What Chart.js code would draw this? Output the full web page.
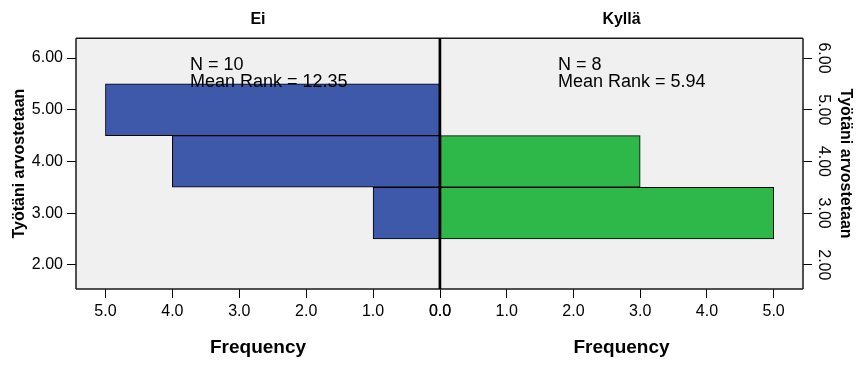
<!DOCTYPE html>
<html>
<head>
<meta charset="utf-8">
<script src="https://cdn.jsdelivr.net/npm/chart.js@4"></script>
<style>
  body { margin: 0; background: #fff; }
  #wrap { position: relative; width: 856px; height: 365px; }
  canvas { position: absolute; left: 0; top: 0; }
</style>
</head>
<body>
<div id="wrap">
  <canvas id="chartEi" width="856" height="365"></canvas>
  <canvas id="chartKylla" width="856" height="365"></canvas>
</div>
<script>
// Työtäni arvostetaan, split by group
const groups = ['Ei', 'Kyllä'];
const ratingEi = [5, 4, 3];
const freqEi = [5, 4, 1];
const ratingKylla = [4, 3];
const freqKylla = [3, 5];
const groupN = [10, 8];
const meanRanks = [12.35, 5.94];
const yTicks = [2, 3, 4, 5, 6];
const xTicks = [0, 1, 2, 3, 4, 5];

Chart.defaults.font.family = "'Liberation Sans', Arial, sans-serif";
Chart.defaults.color = '#000';

const panelPlugin = {
  id: 'panel',
  beforeDraw(chart) {
    const { ctx, chartArea: a } = chart;
    ctx.save();
    ctx.fillStyle = '#F0F0F0';
    ctx.fillRect(a.left, a.top, a.width, a.height);
    ctx.restore();
  },
  afterDatasetsDraw(chart, args, opts) {
    const { ctx, chartArea: a } = chart;
    ctx.save();
    ctx.strokeStyle = '#1a1a1a';
    ctx.lineWidth = 1.5;
    ctx.beginPath();
    ctx.moveTo(a.left, a.top);
    ctx.lineTo(a.right, a.top);
    ctx.moveTo(a.left, a.bottom);
    ctx.lineTo(a.right, a.bottom);
    const outer = opts.side === 'left' ? a.left : a.right;
    ctx.moveTo(outer, a.top);
    ctx.lineTo(outer, a.bottom);
    ctx.stroke();
    // centre line at frequency 0
    const zero = chart.scales.x.getPixelForValue(0);
    ctx.strokeStyle = '#000';
    ctx.lineWidth = 2.5;
    ctx.beginPath();
    ctx.moveTo(zero, a.top);
    ctx.lineTo(zero, a.bottom);
    ctx.stroke();

    ctx.fillStyle = '#000';
    ctx.font = "18px 'Liberation Sans', Arial, sans-serif";
    ctx.textBaseline = 'alphabetic';
    ctx.fillText('N = ' + opts.n, a.left + opts.textX, a.top + 31.5);
    ctx.fillText('Mean Rank = ' + opts.rank.toFixed(2), a.left + opts.textX, a.top + 49);
    ctx.restore();
  }
};

function makePanel(id, idx, ys, freqs, color, side, textX) {
  const isLeft = side === 'left';
  const tickFont = { size: 16 };
  return new Chart(document.getElementById(id), {
    type: 'bar',
    data: {
      datasets: [{
        data: ys.map((y, i) => ({ x: freqs[i], y: y })),
        backgroundColor: color,
        borderColor: '#000',
        borderWidth: 1,
        borderSkipped: false,
        barPercentage: 1,
        categoryPercentage: 1,
        grouped: false
      }]
    },
    options: {
      responsive: false,
      animation: false,
      indexAxis: 'y',
      layout: {
        padding: isLeft ? { left: 0, right: 416, top: 0, bottom: 0 }
                        : { left: 440, right: 0, top: 0, bottom: 0 }
      },
      plugins: {
        legend: { display: false },
        tooltip: { enabled: false },
        title: {
          display: true,
          text: groups[idx],
          fullSize: false,
          color: '#000',
          font: { size: 16, weight: 'bold' },
          padding: { top: 10, bottom: 9 }
        },
        panel: { side: side, textX: textX, n: groupN[idx], rank: meanRanks[idx] }
      },
      scales: {
        x: {
          type: 'linear',
          reverse: isLeft,
          min: 0,
          max: 5.44,
          offset: false,
          afterBuildTicks: s => { s.ticks = xTicks.map(v => ({ value: v })); },
          afterFit: s => { s.height = 76; },
          ticks: { callback: v => v.toFixed(1), font: tickFont, color: '#000', padding: 4, maxRotation: 0 },
          grid: { drawOnChartArea: false, drawTicks: true, tickLength: 9, color: '#000', offset: false },
          border: { display: false },
          title: {
            display: true,
            text: 'Frequency',
            color: '#000',
            font: { size: 19, weight: 'bold' },
            padding: { top: 0, bottom: 6 }
          }
        },
        y: {
          type: 'linear',
          position: side,
          min: 1.533,
          max: 6.383,
          offset: false,
          afterBuildTicks: s => { s.ticks = yTicks.map(v => ({ value: v })); },
          afterFit: s => { s.width = isLeft ? 76 : 53; },
          ticks: isLeft
            ? { callback: v => v.toFixed(2), font: tickFont, color: '#000', padding: 4 }
            : { callback: v => v.toFixed(2), font: tickFont, color: '#000', padding: -4.5,
                minRotation: -90, maxRotation: -90, crossAlign: 'center' },
          grid: { drawOnChartArea: false, drawTicks: true, tickLength: 9, color: '#000', offset: false },
          border: { display: false },
          title: {
            display: true,
            text: 'Työtäni arvostetaan',
            color: '#000',
            font: { size: 16, weight: 'bold' },
            padding: isLeft ? { top: 10, bottom: 0 } : { top: 1, bottom: 0 }
          }
        }
      }
    },
    plugins: [panelPlugin]
  });
}

makePanel('chartEi', 0, ratingEi, freqEi, '#3E58AA', 'left', 114);
makePanel('chartKylla', 1, ratingKylla, freqKylla, '#2EB84A', 'right', 118);
</script>
</body>
</html>
